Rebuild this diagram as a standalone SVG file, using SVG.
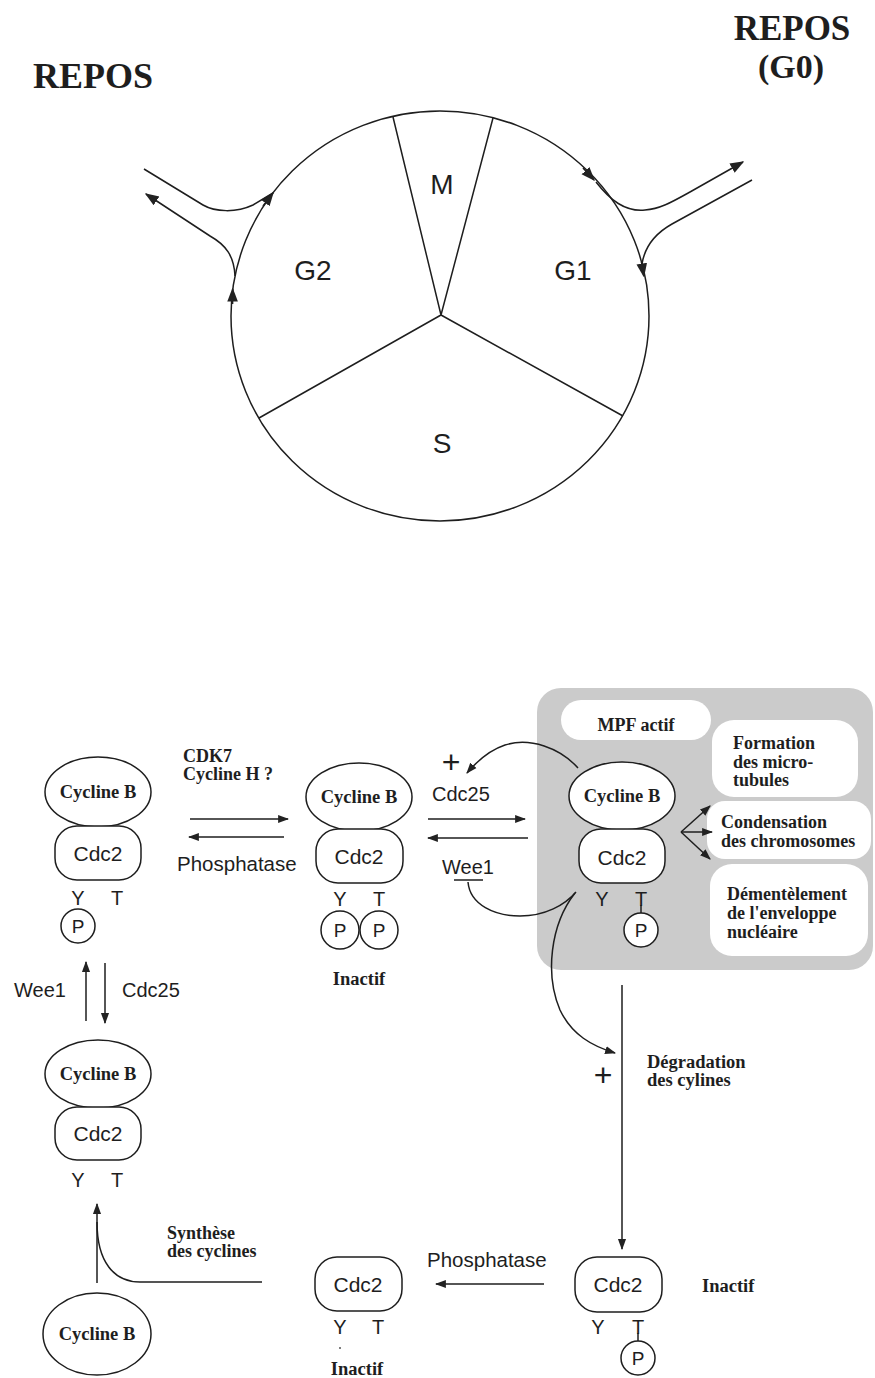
<svg xmlns="http://www.w3.org/2000/svg" width="875" height="1378" viewBox="0 0 875 1378">
<style>
.ln{stroke:#1e1e1e;stroke-width:1.5;fill:none}
.sh{stroke:#1e1e1e;stroke-width:1.5;fill:#fff}
.ar{marker-end:url(#ah)}
.arb{marker-end:url(#ahb)}
.sans{font-family:"Liberation Sans",Arial,sans-serif;fill:#1e1e1e}
.sb{font-family:"Liberation Serif","Times New Roman",serif;font-weight:bold;fill:#1e1e1e}
.mid{text-anchor:middle}
.ph{font-size:28px}
.cy{font-size:18.5px}
.cd{font-size:21px}
.yt{font-size:20px}
.lb{font-size:18px}
</style>
<defs>
<marker id="ah" viewBox="0 0 10 10" refX="9" refY="5" markerWidth="11" markerHeight="11" markerUnits="userSpaceOnUse" orient="auto"><path d="M0,1.3 L10,5 L0,8.7 z" fill="#222"/></marker>
<marker id="ahb" viewBox="0 0 10 10" refX="9" refY="5" markerWidth="14" markerHeight="14" markerUnits="userSpaceOnUse" orient="auto"><path d="M0,1.2 L10,5 L0,8.8 z" fill="#222"/></marker>
</defs>
<rect width="875" height="1378" fill="#fff"/>

<!-- Top cell cycle -->
<g id="title-repos-left"><text class="sb" x="33" y="88" font-size="36">REPOS</text></g>
<g id="title-repos-right"><text class="sb mid" x="792" y="40" font-size="35">REPOS</text><text class="sb mid" x="791" y="78" font-size="34">(G0)</text></g>
<g id="cycle">
<ellipse class="ln" cx="440" cy="316" rx="209" ry="205"/>
<path class="ln" d="M441,315 L393,117 M441,315 L493,118 M441,315 L259,418 M441,315 L623,416"/>
<text class="sans mid ph" x="442" y="194">M</text>
<text class="sans mid ph" x="313" y="280">G2</text>
<text class="sans mid ph" x="573" y="280">G1</text>
<text class="sans mid ph" x="442" y="453">S</text>
</g>

<!-- active MPF panel (background) -->
<g id="mpf-panel">
<rect x="537" y="688" width="336" height="282" rx="24" fill="#cbcbcb"/>
<rect x="561" y="700" width="150" height="40" rx="20" fill="#fff"/>
<rect x="712" y="720" width="146" height="77" rx="22" fill="#fff"/>
<rect x="707" y="801" width="164" height="58" rx="18" fill="#fff"/>
<rect x="710" y="864" width="158" height="92" rx="22" fill="#fff"/>
<text class="sb mid lb" x="636" y="731">MPF actif</text>
<text class="sb lb" x="733" y="749">Formation</text>
<text class="sb lb" x="733" y="768">des micro-</text>
<text class="sb lb" x="733" y="786">tubules</text>
<text class="sb lb" x="721" y="828">Condensation</text>
<text class="sb lb" x="721" y="847">des chromosomes</text>
<text class="sb lb" x="727" y="900">Démentèlement</text>
<text class="sb lb" x="727" y="919">de l'enveloppe</text>
<text class="sb lb" x="727" y="938">nucléaire</text>
</g>

<g id="connectors">
<!-- cycle arrows -->
<path class="ln arb" d="M232.6,304 L232.6,289"/>
<path class="ln arb" d="M263,206 L273,193"/>
<path class="ln arb" d="M583,168 L594,180"/>
<path class="ln arb" d="M641.5,262 L643.8,276"/>
<!-- left branch -->
<path class="ln arb" d="M235,276 C234,256 226,245 210,236 L146,194"/>
<path class="ln" d="M144,169 L203,205 C215,212 236,213 253,205 L273,193"/>
<!-- right branch -->
<path class="ln arb" d="M596,182 C610,200 625,212 645,210 C660,209 672,202 690,192 L743,162"/>
<path class="ln" d="M752,180 L672,224 C656,233 645,245 642,264"/>

<!-- bottom pathway -->
<path class="ln ar" d="M190,819 L288,819"/>
<path class="ln ar" d="M284,837 L189,837"/>
<path class="ln ar" d="M428,819 L525,819"/>
<path class="ln ar" d="M528,838 L428,838"/>
<path class="ln ar" d="M578,768 C560,748 530,737 505,745 C490,750 478,760 467,773"/>
<path class="ln" d="M468,882 C470,905 495,916 520,916 C545,916 565,905 576,892"/>
<path class="ln" d="M454,880 L483,880" stroke-width="2"/>
<path class="ln ar" d="M681,832 L710,806"/>
<path class="ln ar" d="M681,832 L712,832"/>
<path class="ln ar" d="M681,832 L710,859"/>
<path class="ln ar" d="M575,893 C550,925 545,975 560,1010 C572,1035 592,1046 615,1053"/>
<path class="ln ar" d="M622,985 L622,1249"/>
<path class="ln ar" d="M544,1284 L436,1284"/>
<path class="ln ar" d="M86,1021 L86,962"/>
<path class="ln ar" d="M105,963 L105,1023"/>
<path class="ln" d="M262,1282 L140,1282 C114,1282 97,1262 97,1222"/>
<path class="ln ar" d="M97,1283 L97,1204"/>
</g>

<!-- connector labels -->
<g id="labels">
<text class="sb" x="183" y="762" font-size="18">CDK7</text>
<text class="sb" x="183" y="780" font-size="18">Cycline H ?</text>
<text class="sans" x="177" y="871" font-size="20.5">Phosphatase</text>
<text class="sans" x="451" y="773" font-size="32" text-anchor="middle">+</text>
<text class="sans" x="432" y="801" font-size="20">Cdc25</text>
<text class="sans" x="442" y="874" font-size="20">Wee1</text>
<text class="sans" x="14" y="997" font-size="20">Wee1</text>
<text class="sans" x="122" y="997" font-size="20">Cdc25</text>
<text class="sans" x="603" y="1086" font-size="32" text-anchor="middle">+</text>
<text class="sb" x="647" y="1068" font-size="18.5">Dégradation</text>
<text class="sb" x="647" y="1086" font-size="18.5">des cylines</text>
<text class="sans" x="427" y="1267" font-size="20.5">Phosphatase</text>
<text class="sb" x="167" y="1239" font-size="18">Synthèse</text>
<text class="sb" x="167" y="1257" font-size="18">des cyclines</text>
</g>

<!-- complex 1 -->
<g id="complex1">
<ellipse class="sh" cx="98" cy="792" rx="53" ry="35"/>
<rect class="sh" x="55" y="826" width="86" height="54" rx="22"/>
<text class="sb mid cy" x="98" y="798">Cycline B</text>
<text class="sans mid cd" x="98" y="861">Cdc2</text>
<text class="sans mid yt" x="78" y="905">Y</text>
<text class="sans mid yt" x="117" y="905">T</text>
<circle class="sh" cx="78" cy="926" r="17"/>
<text class="sans mid" x="78" y="933" font-size="19">P</text>
</g>

<!-- complex 2 -->
<g id="complex2">
<ellipse class="sh" cx="359" cy="797" rx="53" ry="34"/>
<rect class="sh" x="316" y="829" width="87" height="54" rx="22"/>
<text class="sb mid cy" x="359" y="803">Cycline B</text>
<text class="sans mid cd" x="359" y="864" fill="#333">Cdc2</text>
<text class="sans mid yt" x="340" y="906">Y</text>
<text class="sans mid yt" x="379" y="906">T</text>
<circle class="sh" cx="340" cy="930" r="19"/>
<circle class="sh" cx="379" cy="930" r="19"/>
<text class="sans mid" x="340" y="937" font-size="19">P</text>
<text class="sans mid" x="379" y="937" font-size="19">P</text>
<text class="sb mid cy" x="359" y="985">Inactif</text>
</g>

<!-- complex 3 (active) -->
<g id="complex3">
<ellipse class="sh" cx="622" cy="796" rx="53" ry="34"/>
<rect class="sh" x="579" y="829" width="86" height="54" rx="22"/>
<text class="sb mid cy" x="622" y="802">Cycline B</text>
<text class="sans mid cd" x="622" y="865" fill="#333">Cdc2</text>
<text class="sans mid yt" x="602" y="906">Y</text>
<text class="sans mid yt" x="641" y="906">T</text>
<path class="ln" d="M641,905 L641,913"/>
<circle class="sh" cx="641" cy="930" r="17" stroke-width="2"/>
<text class="sans mid" x="641" y="937" font-size="19">P</text>
</g>

<!-- complex 4 -->
<g id="complex4">
<ellipse class="sh" cx="98" cy="1074" rx="53" ry="34"/>
<rect class="sh" x="55" y="1107" width="86" height="53" rx="22"/>
<text class="sb mid cy" x="98" y="1080">Cycline B</text>
<text class="sans mid cd" x="98" y="1141" fill="#333">Cdc2</text>
<text class="sans mid yt" x="78" y="1187">Y</text>
<text class="sans mid yt" x="117" y="1187">T</text>
</g>

<!-- free cyclin B -->
<g id="cyclinB-free">
<ellipse class="sh" cx="97" cy="1334" rx="54" ry="41"/>
<text class="sb mid cy" x="97" y="1340">Cycline B</text>
</g>

<!-- inactive Cdc2 (middle) -->
<g id="cdc2-mid">
<rect class="sh" x="315" y="1257" width="87" height="54" rx="22"/>
<text class="sans mid cd" x="358" y="1292">Cdc2</text>
<text class="sans mid yt" x="340" y="1334">Y</text>
<text class="sans mid yt" x="378" y="1334">T</text>
<circle cx="340" cy="1348" r="1" fill="#555"/>
<text class="sb mid cy" x="357" y="1375">Inactif</text>
</g>

<!-- inactive Cdc2-P (right) -->
<g id="cdc2-right">
<rect class="sh" x="575" y="1257" width="87" height="55" rx="22"/>
<text class="sans mid cd" x="618" y="1292">Cdc2</text>
<text class="sans mid yt" x="598" y="1334">Y</text>
<text class="sans mid yt" x="638" y="1334">T</text>
<path class="ln" d="M638,1333 L638,1341"/>
<circle class="sh" cx="638" cy="1358" r="17"/>
<text class="sans mid" x="638" y="1365" font-size="19">P</text>
<text class="sb cy" x="702" y="1292">Inactif</text>
</g>
</svg>
